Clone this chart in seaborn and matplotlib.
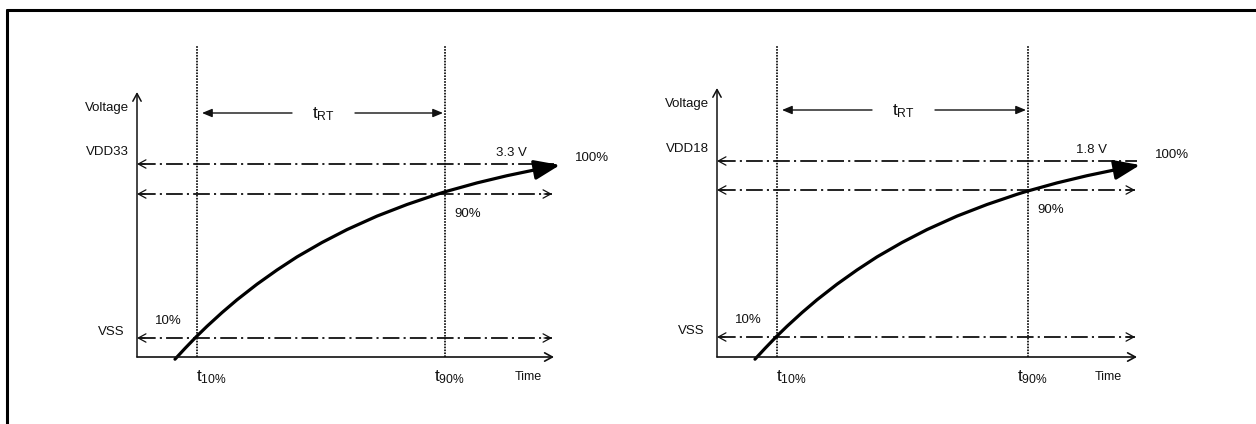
import matplotlib
matplotlib.use("Agg")
import matplotlib.pyplot as plt
import seaborn as sns
from matplotlib.lines import Line2D

sns.set_style("white")
plt.rcParams['font.family'] = ['Liberation Sans', 'DejaVu Sans']
plt.rcParams['mathtext.fontset'] = 'custom'
plt.rcParams['mathtext.rm'] = 'Liberation Sans'
plt.rcParams['mathtext.default'] = 'regular'
plt.rcParams['lines.scale_dashes'] = False

# ---- diagram values (panel-local units, 1 unit = 1 px) ----
supply_names = ["VDD33", "VDD18"]
supply_volts = ["3.3 V", "1.8 V"]
origin_x = [137, 717]          # where each panel's axes meet
origin_y = [357, 357]
t10_pos = [60, 60]
t90_pos = [308, 311]
vss_level = [19, 20]
p90_level = [163, 167]
vdd_level = [193, 196]
time_axis_len = [417, 420]
volt_axis_len = [265, 269]
marker_top = [311, 312]
trt_height = [244, 247]

# rise curve
curve_t = [38, 48, 59, 70, 85, 100, 120, 140, 160, 185, 210, 240, 270, 300, 309, 340, 370, 403]
curve_v = [-2.2, 8.6, 20.0, 30.7, 44.4, 57.2, 72.8, 87.0, 100.1, 114.5, 127.4,
           140.9, 152.5, 162.7, 165.5, 174.1, 181.3, 188.2]
curve_tip = (423, 192)

W, H = 1256, 424
fig = plt.figure(figsize=(W / 100, H / 100), dpi=100)

dashdot = (12, 3, 1.5, 3)
dark = "#111111"


def open_head(ax, x0, y0, x1, y1, lw=0.9):
    ax.annotate("", xy=(x1, y1), xytext=(x0, y0),
                arrowprops=dict(arrowstyle="->,head_length=0.55,head_width=0.3",
                                lw=lw, color=dark, shrinkA=0, shrinkB=0))


for i in range(2):
    ox, oy = origin_x[i], origin_y[i]
    ax = fig.add_axes([0, 0, 1, 1])
    ax.set_xlim(-ox, W - ox)
    ax.set_ylim(-(H - oy), oy)
    ax.axis("off")
    ax.patch.set_alpha(0)

    # axes with arrows
    open_head(ax, 0, 0, time_axis_len[i], 0, lw=1.2)
    open_head(ax, 0, 0, 0, volt_axis_len[i], lw=1.1)

    # dotted time markers
    for t in (t10_pos[i], t90_pos[i]):
        ax.plot([t, t], [0, marker_top[i]], color="black", lw=1.2, dashes=(1.2, 0.9))

    # dash-dot levels
    xr = time_axis_len[i] - 2
    for lev, right in ((vss_level[i], True), (p90_level[i], True), (vdd_level[i], False)):
        xe = xr if right else xr + 2
        ax.plot([2, xe], [lev, lev], color=dark, lw=1.3, dashes=dashdot)
        open_head(ax, 8, lev, 0, lev)
        if right:
            open_head(ax, xe - 8, lev, xe, lev)

    # rise curve
    sns.lineplot(x=curve_t, y=curve_v, ax=ax, color="black", lw=2.3, sort=False)
    ax.annotate("", xy=curve_tip, xytext=(curve_t[-1], curve_v[-1]),
                arrowprops=dict(arrowstyle="-|>,head_length=1.3,head_width=0.5",
                                lw=2.3, color="black", shrinkA=0, shrinkB=0,
                                mutation_scale=12))

    # t_RT arrows
    ty = trt_height[i]
    for xs, xe in ((155, t10_pos[i] + 5), (218, t90_pos[i] - 2)):
        ax.annotate("", xy=(xe, ty), xytext=(xs, ty),
                    arrowprops=dict(arrowstyle="-|>,head_length=0.6,head_width=0.25",
                                    lw=1.0, color=dark, shrinkA=0, shrinkB=0,
                                    mutation_scale=10))
    ax.text(186, ty - 1, r"t$_{RT}$", fontsize=12.5, ha="center", va="center", color=dark)

    # labels
    fs = 9.5
    ax.text(-8, volt_axis_len[i] - 16, "Voltage", fontsize=fs, ha="right", va="center", color=dark)
    ax.text(-8, vdd_level[i] + 12, supply_names[i], fontsize=fs, ha="right", va="center", color=dark)
    ax.text(-12, vss_level[i] + 6, "VSS", fontsize=fs, ha="right", va="center", color=dark)
    ax.text(31, vss_level[i] + 17, "10%", fontsize=fs, ha="center", va="center", color=dark)
    ax.text(t90_pos[i] + 9, p90_level[i] - 20, "90%", fontsize=fs, ha="left", va="center", color=dark)
    ax.text(374, vdd_level[i] + 11, supply_volts[i], fontsize=fs, ha="center", va="center", color=dark)
    ax.text(438, vdd_level[i] + 6, "100%", fontsize=fs, ha="left", va="center", color=dark)
    ax.text(378, -20, "Time", fontsize=9, ha="left", va="center", color=dark)
    ax.text(t10_pos[i] - 1, -20, r"t$_{10\%}$", fontsize=12.5, ha="left", va="center", color=dark)
    ax.text(t90_pos[i] - 11, -20, r"t$_{90\%}$", fontsize=12.5, ha="left", va="center", color=dark)

# outer frame (top and left edges visible)
fig.add_artist(Line2D([7 / W, 1], [1 - 10 / H, 1 - 10 / H], color="black", lw=2.2,
                      transform=fig.transFigure))
fig.add_artist(Line2D([7 / W, 7 / W], [0, 1 - 10 / H], color="black", lw=2.2,
                      transform=fig.transFigure))

fig.savefig("out.png", dpi=100)
